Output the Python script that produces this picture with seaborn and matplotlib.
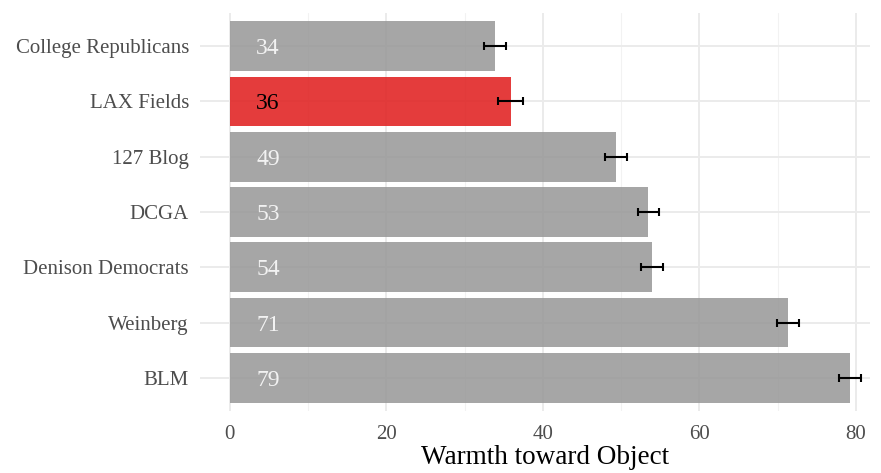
import matplotlib
matplotlib.use("Agg")
import matplotlib.pyplot as plt
import seaborn as sns
import pandas as pd
import numpy as np

categories = ["College Republicans", "LAX Fields", "127 Blog", "DCGA",
              "Denison Democrats", "Weinberg", "BLM"]
means = [33.9, 35.9, 49.4, 53.5, 54.0, 71.3, 79.2]
errors = [1.4, 1.6, 1.4, 1.4, 1.4, 1.4, 1.4]
labels = ["34", "36", "49", "53", "54", "71", "79"]
highlight = "LAX Fields"

df = pd.DataFrame({"object": categories, "warmth": means, "err": errors, "label": labels})
df["group"] = np.where(df["object"] == highlight, "hi", "other")

sns.set_theme(style="whitegrid")
plt.rcParams["font.family"] = ["Liberation Serif", "DejaVu Serif"]

fig = plt.figure(figsize=(8.81, 4.73), dpi=100)
ax = fig.add_axes([200 / 881, 1 - 411 / 473, 670 / 881, 398 / 473])

palette = {"hi": "#e01f1f", "other": "#999999"}
sns.barplot(data=df, y="object", x="warmth", hue="group", palette=palette,
            order=categories, dodge=False, width=0.9, alpha=0.87, legend=False,
            ax=ax, saturation=1, linewidth=0)

ypos = np.arange(len(categories))
ax.errorbar(df["warmth"], ypos, xerr=df["err"], fmt="none", ecolor="black",
            elinewidth=1.5, capsize=3, capthick=1.5, zorder=5)

for i, row in df.iterrows():
    col = "black" if row["object"] == highlight else "#f2f2f2"
    ax.text(4.9, i, row["label"], ha="center", va="center_baseline", fontsize=17,
            color=col, zorder=6)

ax.set_xlim(-3.8, 81.8)
ax.set_ylim(len(categories) - 0.4, -0.6)
ax.set_xticks([0, 20, 40, 60, 80])
ax.set_xticks([10, 30, 50, 70], minor=True)
ax.grid(True, which="major", color="#ebebeb", linewidth=1.4)
ax.grid(True, which="minor", axis="x", color="#f2f2f2", linewidth=0.8)
ax.set_axisbelow(True)
for s in ax.spines.values():
    s.set_visible(False)
ax.tick_params(axis="y", which="both", length=0, labelsize=15, labelcolor="#4d4d4d", pad=8)
ax.tick_params(axis="x", which="both", length=0, labelsize=15, labelcolor="#4d4d4d", pad=10)
ax.set_ylabel("")
ax.set_xlabel("Warmth toward Object", fontsize=19.5, color="black")
ax.xaxis.set_label_coords(0.515, -0.086)

fig.savefig("out.png", dpi=100, facecolor="white")
